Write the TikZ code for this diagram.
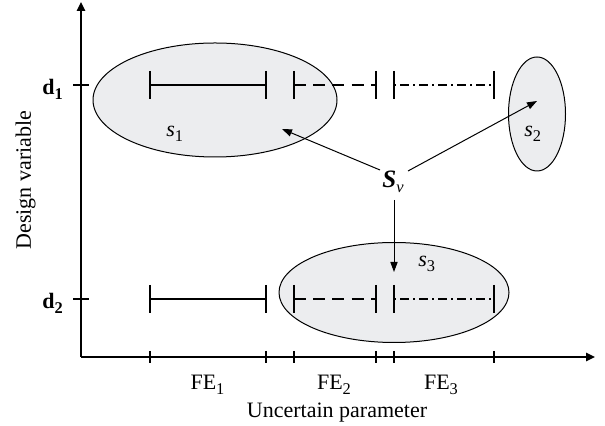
\documentclass[tikz,border=0pt]{standalone}
\usepackage{fontspec}
\setmainfont{Liberation Serif}
\usetikzlibrary{arrows.meta}
\definecolor{setfill}{RGB}{236,237,239}
\newcommand{\lowsub}[1]{\raisebox{-0.4ex}{\fontsize{8.2}{9}\selectfont #1}}
\begin{document}
\begin{tikzpicture}[x=0.5pt,y=-0.5pt,
  font=\fontsize{11}{13}\selectfont,
  axisline/.style={line width=0.75pt,-{Triangle[length=4.5pt,width=4.2pt]}},
  tickline/.style={line width=0.6pt},
  setshape/.style={draw=black,line width=0.5pt,fill=setfill},
  feline/.style={line width=0.8pt},
  febar/.style={line width=0.8pt},
  pointer/.style={line width=0.5pt,-{Triangle[length=5pt,width=3.6pt]}},
  lbl/.style={inner sep=0pt,anchor=base west}]
\useasboundingbox (0,0) rectangle (605,426);

% sets
\draw[setshape] (215,100) ellipse [x radius=122, y radius=57];
\draw[setshape] (537,114) ellipse [x radius=28.5, y radius=57];
\draw[setshape] (394,292.5) ellipse [x radius=115, y radius=50];

% axes
\coordinate (o) at (81,357);
\coordinate (ytop) at (81,2);
\coordinate (xend) at (595,357);
\draw[axisline] (o) -- (ytop);
\draw[axisline] (o) -- (xend);

% y ticks
\foreach \yy/\nm in {85/t1,299/t2}{
  \coordinate (\nm a) at (73,\yy);
  \coordinate (\nm b) at (89,\yy);
  \draw[tickline] (\nm a) -- (\nm b);
}
% x ticks
\foreach \xx [count=\i] in {150,266,294,376,394,494}{
  \coordinate (xa\i) at (\xx,351);
  \coordinate (xb\i) at (\xx,363);
  \draw[tickline] (xa\i) -- (xb\i);
}

% intervals
\foreach \yy/\r in {85/u,299/w}{
  \foreach \xx [count=\i] in {150,266,294,376,394,494}{
    \coordinate (\r top\i) at (\xx,\yy-14);
    \coordinate (\r bot\i) at (\xx,\yy+14);
    \coordinate (\r mid\i) at (\xx,\yy);
    \draw[febar] (\r top\i) -- (\r bot\i);
  }
  \draw[feline] (\r mid1) -- (\r mid2);
  \draw[feline,dash pattern=on 6pt off 3.6pt] (\r mid3) -- (\r mid4);
  \draw[feline,line width=0.6pt,dash pattern=on 1pt off 2pt on 4.5pt off 2pt] (\r mid5) -- (\r mid6);
}

% labels
\node[lbl] (d1) at (42,95) {\textbf{d}\lowsub{\textbf{1}}};
\node[lbl] (d2) at (42,309) {\textbf{d}\lowsub{\textbf{2}}};
\node[inner sep=0pt,rotate=90,anchor=base] (ylab) at (31,180) {Design variable};
\node[inner sep=0pt,anchor=base] (fe1) at (207.5,390) {FE\lowsub{1}};
\node[inner sep=0pt,anchor=base] (fe2) at (334,390) {FE\lowsub{2}};
\node[inner sep=0pt,anchor=base] (fe3) at (441,390) {FE\lowsub{3}};
\node[inner sep=0pt,anchor=base] (xlab) at (337,418) {Uncertain parameter};

\node[lbl] (s1) at (166,137) {\textit{s}\lowsub{1}};
\node[lbl] (s2) at (524,137) {\textit{s}\lowsub{2}};
\node[lbl] (s3) at (418,267) {\textit{s}\lowsub{3}};
\node[lbl] (sv) at (382,188) {\fontsize{12.5}{14}\selectfont\textbf{\textit{S}}\lowsub{\textit{v}}};

% pointers
\coordinate (p1s) at (380,170);
\coordinate (p1e) at (282,129);
\coordinate (p2s) at (408,171);
\coordinate (p2e) at (537,101);
\coordinate (p3s) at (394,200);
\coordinate (p3e) at (394,272);
\draw[pointer] (p1s) -- (p1e);
\draw[pointer] (p2s) -- (p2e);
\draw[pointer] (p3s) -- (p3e);
\end{tikzpicture}
\end{document}
